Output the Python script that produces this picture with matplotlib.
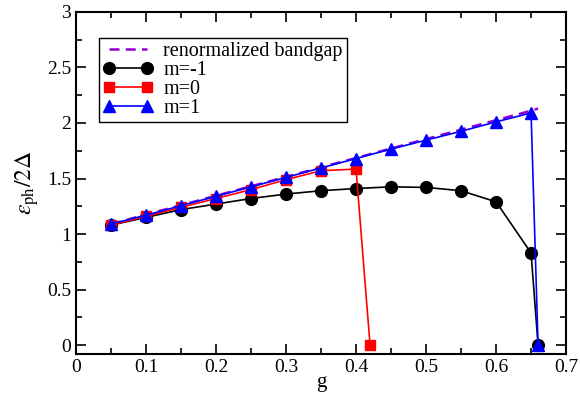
import numpy as np
import matplotlib
matplotlib.use("Agg")
import matplotlib.pyplot as plt
from matplotlib.ticker import MultipleLocator, FuncFormatter

plt.rcParams["font.family"] = ["Liberation Serif", "DejaVu Serif"]
plt.rcParams["mathtext.fontset"] = "stix"

# ── data ──────────────────────────────────────────────────────────────────
g_gap = [0.05, 0.1, 0.15, 0.2, 0.25, 0.3, 0.35, 0.4, 0.45, 0.5, 0.55, 0.6, 0.65, 0.66]
e_gap = [1.09, 1.175, 1.26, 1.345, 1.43, 1.515, 1.60, 1.685, 1.77, 1.855, 1.94, 2.025, 2.11, 2.13]

g_m1 = [0.05, 0.1, 0.15, 0.2, 0.25, 0.3, 0.35, 0.4, 0.45, 0.5, 0.55, 0.6, 0.65, 0.66]
e_m1 = [1.08, 1.15, 1.22, 1.27, 1.32, 1.36, 1.39, 1.41, 1.425, 1.42, 1.39, 1.29, 0.83, 0.0]

g_0 = [0.05, 0.1, 0.15, 0.2, 0.25, 0.3, 0.35, 0.4, 0.42]
e_0 = [1.08, 1.16, 1.24, 1.32, 1.40, 1.49, 1.57, 1.585, 0.0]

g_p1 = [0.05, 0.1, 0.15, 0.2, 0.25, 0.3, 0.35, 0.4, 0.45, 0.5, 0.55, 0.6, 0.65, 0.66]
e_p1 = [1.09, 1.17, 1.255, 1.34, 1.425, 1.51, 1.595, 1.68, 1.765, 1.845, 1.925, 2.01, 2.09, 0.0]

fig = plt.figure(figsize=(5.8, 3.96), dpi=100)
ax = fig.add_axes([0.131, 0.106, 0.845, 0.864])

ax.plot(g_gap, e_gap, color="#9400D3", lw=1.8, ls=(0, (4, 2.5)), label="renormalized bandgap")
ax.plot(g_m1, e_m1, color="black", lw=1.2, marker="o", ms=8.5, label="m=-1")
ax.plot(g_0, e_0, color="red", lw=1.2, marker="s", ms=7, label="m=0")
ax.plot(g_p1, e_p1, color="blue", lw=1.2, marker="^", ms=8, label="m=1")

ax.set_xlim(0, 0.7)
ax.set_ylim(-0.08, 3)
ax.xaxis.set_major_locator(MultipleLocator(0.1))
ax.xaxis.set_minor_locator(MultipleLocator(0.05))
ax.yaxis.set_major_locator(MultipleLocator(0.5))
ax.yaxis.set_minor_locator(MultipleLocator(0.25))
ax.xaxis.set_major_formatter(FuncFormatter(lambda v, p: f"{v:g}"))
ax.yaxis.set_major_formatter(FuncFormatter(lambda v, p: f"{v:g}"))
ax.tick_params(which="both", direction="in", top=True, right=True, labelsize=14, width=1.2)
ax.tick_params(which="major", length=7)
ax.tick_params(which="minor", length=4)
for s in ax.spines.values():
    s.set_linewidth(1.5)

ax.set_xlabel("g", fontsize=15, labelpad=-2)
ax.set_ylabel(r"$\varepsilon_{\rm ph}/2\Delta$", fontsize=17, labelpad=4)

leg = ax.legend(loc="upper left", bbox_to_anchor=(0.047, 0.925), fontsize=14.5,
                frameon=True, fancybox=False, edgecolor="black", framealpha=1,
                numpoints=2, handlelength=2.5, handletextpad=0.5, borderpad=0.2,
                labelspacing=0.0, borderaxespad=0)
leg.get_frame().set_linewidth(1.0)

fig.savefig("out.png", dpi=100)
